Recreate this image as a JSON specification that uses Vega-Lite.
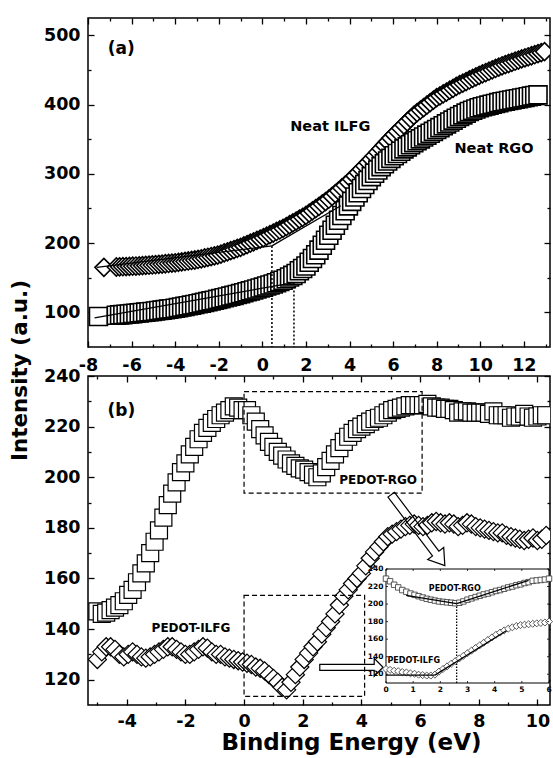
{
  "$schema": "https://vega.github.io/schema/vega-lite/v6.json",
  "background": "white",
  "padding": {"left": 8, "top": 16, "right": 0, "bottom": 0},
  "bounds": "flush",
  "spacing": 29,
  "config": {
    "font": "DejaVu Sans",
    "view": {"stroke": "black", "strokeWidth": 1.5},
    "axis": {
      "labelFont": "DejaVu Sans", "labelFontWeight": "bold", "labelFontSize": 17.5, "labelColor": "black",
      "titleFont": "DejaVu Sans", "titleFontWeight": "bold", "titleFontSize": 23, "titleColor": "black",
      "tickColor": "black", "tickWidth": 1.3, "domain": false, "grid": false, "zindex": 1,
      "labelFlush": false, "labelOverlap": false, "labelBound": false
    }
  },
  "datasets": {
    "a_ilfg": [{"x":-7.27,"y":165},{"x":-6.7,"y":165.5},{"x":-6.55,"y":165.7},{"x":-6.4,"y":165.9},{"x":-6.25,"y":166.1},{"x":-6.1,"y":166.4},{"x":-5.95,"y":166.6},{"x":-5.8,"y":166.9},{"x":-5.65,"y":167.2},{"x":-5.5,"y":167.5},{"x":-5.35,"y":167.8},{"x":-5.2,"y":168.1},{"x":-5.05,"y":168.4},{"x":-4.9,"y":168.8},{"x":-4.75,"y":169.3},{"x":-4.6,"y":169.7},{"x":-4.45,"y":170.2},{"x":-4.3,"y":170.6},{"x":-4.15,"y":171.1},{"x":-4,"y":171.5},{"x":-3.85,"y":172.2},{"x":-3.7,"y":172.9},{"x":-3.55,"y":173.5},{"x":-3.4,"y":174.2},{"x":-3.25,"y":174.9},{"x":-3.1,"y":175.6},{"x":-2.95,"y":176.4},{"x":-2.8,"y":177.4},{"x":-2.65,"y":178.5},{"x":-2.5,"y":179.5},{"x":-2.35,"y":180.6},{"x":-2.2,"y":181.6},{"x":-2.05,"y":182.7},{"x":-1.9,"y":184.1},{"x":-1.75,"y":185.8},{"x":-1.6,"y":187.4},{"x":-1.45,"y":189.1},{"x":-1.3,"y":190.7},{"x":-1.15,"y":192.4},{"x":-1,"y":194},{"x":-0.85,"y":196},{"x":-0.7,"y":197.9},{"x":-0.55,"y":199.9},{"x":-0.4,"y":201.8},{"x":-0.25,"y":203.8},{"x":-0.1,"y":205.7},{"x":0.05,"y":207.8},{"x":0.2,"y":210},{"x":0.35,"y":212.3},{"x":0.5,"y":214.5},{"x":0.65,"y":216.8},{"x":0.8,"y":219},{"x":0.95,"y":221.3},{"x":1.1,"y":223.8},{"x":1.25,"y":226.5},{"x":1.4,"y":229.2},{"x":1.55,"y":231.9},{"x":1.7,"y":234.6},{"x":1.85,"y":237.3},{"x":2,"y":240},{"x":2.15,"y":243.3},{"x":2.3,"y":246.6},{"x":2.45,"y":249.9},{"x":2.6,"y":253.2},{"x":2.75,"y":256.5},{"x":2.9,"y":259.8},{"x":3.05,"y":263.4},{"x":3.2,"y":267.4},{"x":3.35,"y":271.5},{"x":3.5,"y":275.5},{"x":3.65,"y":279.6},{"x":3.8,"y":283.6},{"x":3.95,"y":287.7},{"x":4.1,"y":292.2},{"x":4.25,"y":297},{"x":4.4,"y":301.8},{"x":4.55,"y":306.6},{"x":4.7,"y":311.4},{"x":4.85,"y":316.2},{"x":5,"y":321},{"x":5.15,"y":326.1},{"x":5.3,"y":331.2},{"x":5.45,"y":336.3},{"x":5.6,"y":341.4},{"x":5.75,"y":346.5},{"x":5.9,"y":351.6},{"x":6.05,"y":356.6},{"x":6.2,"y":361.2},{"x":6.35,"y":365.9},{"x":6.5,"y":370.5},{"x":6.65,"y":375.2},{"x":6.8,"y":379.8},{"x":6.95,"y":384.5},{"x":7.1,"y":388.4},{"x":7.25,"y":392},{"x":7.4,"y":395.6},{"x":7.55,"y":399.2},{"x":7.7,"y":402.8},{"x":7.85,"y":406.4},{"x":8,"y":410},{"x":8.15,"y":412.7},{"x":8.3,"y":415.4},{"x":8.45,"y":418.1},{"x":8.6,"y":420.8},{"x":8.75,"y":423.5},{"x":8.9,"y":426.2},{"x":9.05,"y":428.8},{"x":9.2,"y":431},{"x":9.35,"y":433.3},{"x":9.5,"y":435.5},{"x":9.65,"y":437.8},{"x":9.8,"y":440},{"x":9.95,"y":442.3},{"x":10.1,"y":444.3},{"x":10.25,"y":446.3},{"x":10.4,"y":448.2},{"x":10.55,"y":450.2},{"x":10.7,"y":452.1},{"x":10.85,"y":454.1},{"x":11,"y":456},{"x":11.15,"y":457.7},{"x":11.3,"y":459.3},{"x":11.45,"y":461},{"x":11.6,"y":462.6},{"x":11.75,"y":464.3},{"x":11.9,"y":465.9},{"x":12.05,"y":467.5},{"x":12.2,"y":469},{"x":12.35,"y":470.5},{"x":12.5,"y":472},{"x":12.65,"y":473.5},{"x":12.8,"y":475},{"x":12.95,"y":476.5}],
    "a_rgo": [{"x":-7.52,"y":94},{"x":-6.7,"y":95.9},{"x":-6.55,"y":96.4},{"x":-6.4,"y":96.8},{"x":-6.25,"y":97.3},{"x":-6.1,"y":97.7},{"x":-5.95,"y":98.2},{"x":-5.8,"y":98.7},{"x":-5.65,"y":99.2},{"x":-5.5,"y":99.8},{"x":-5.35,"y":100.3},{"x":-5.2,"y":100.8},{"x":-5.05,"y":101.3},{"x":-4.9,"y":102},{"x":-4.75,"y":102.6},{"x":-4.6,"y":103.3},{"x":-4.45,"y":104},{"x":-4.3,"y":104.7},{"x":-4.15,"y":105.3},{"x":-4,"y":106},{"x":-3.85,"y":106.9},{"x":-3.7,"y":107.8},{"x":-3.55,"y":108.7},{"x":-3.4,"y":109.6},{"x":-3.25,"y":110.5},{"x":-3.1,"y":111.4},{"x":-2.95,"y":112.4},{"x":-2.8,"y":113.4},{"x":-2.65,"y":114.5},{"x":-2.5,"y":115.5},{"x":-2.35,"y":116.6},{"x":-2.2,"y":117.6},{"x":-2.05,"y":118.7},{"x":-1.9,"y":119.8},{"x":-1.75,"y":121},{"x":-1.6,"y":122.2},{"x":-1.45,"y":123.4},{"x":-1.3,"y":124.6},{"x":-1.15,"y":125.8},{"x":-1,"y":127},{"x":-0.85,"y":128.4},{"x":-0.7,"y":129.7},{"x":-0.55,"y":131.1},{"x":-0.4,"y":132.4},{"x":-0.25,"y":133.8},{"x":-0.1,"y":135.1},{"x":0.05,"y":136.5},{"x":0.2,"y":138},{"x":0.35,"y":139.6},{"x":0.5,"y":141},{"x":0.65,"y":142.8},{"x":0.8,"y":144.6},{"x":0.95,"y":146.4},{"x":1.1,"y":148.6},{"x":1.25,"y":151},{"x":1.4,"y":153.4},{"x":1.55,"y":156.2},{"x":1.7,"y":160},{"x":1.85,"y":163.4},{"x":2,"y":167},{"x":2.15,"y":172.4},{"x":2.3,"y":177.8},{"x":2.45,"y":183.2},{"x":2.6,"y":189.8},{"x":2.75,"y":197},{"x":2.9,"y":204.2},{"x":3.05,"y":211.4},{"x":3.2,"y":218.6},{"x":3.35,"y":225.8},{"x":3.5,"y":233},{"x":3.65,"y":239.9},{"x":3.8,"y":246.8},{"x":3.95,"y":253.7},{"x":4.1,"y":260.2},{"x":4.25,"y":266.5},{"x":4.4,"y":272.8},{"x":4.55,"y":278.9},{"x":4.7,"y":284.6},{"x":4.85,"y":290.3},{"x":5,"y":296},{"x":5.15,"y":300.8},{"x":5.3,"y":305.6},{"x":5.45,"y":310.4},{"x":5.6,"y":314.6},{"x":5.75,"y":318.5},{"x":5.9,"y":322.4},{"x":6.05,"y":326.1},{"x":6.2,"y":329.4},{"x":6.35,"y":332.7},{"x":6.5,"y":336},{"x":6.65,"y":339},{"x":6.8,"y":342},{"x":6.95,"y":345},{"x":7.1,"y":347.8},{"x":7.25,"y":350.5},{"x":7.4,"y":353.2},{"x":7.55,"y":355.9},{"x":7.7,"y":358.6},{"x":7.85,"y":361.3},{"x":8,"y":364},{"x":8.15,"y":366.7},{"x":8.3,"y":369.4},{"x":8.45,"y":372.1},{"x":8.6,"y":374.8},{"x":8.75,"y":377.5},{"x":8.9,"y":380.2},{"x":9.05,"y":382.8},{"x":9.2,"y":385.2},{"x":9.35,"y":387.6},{"x":9.5,"y":390},{"x":9.65,"y":391.8},{"x":9.8,"y":393.6},{"x":9.95,"y":395.4},{"x":10.1,"y":396.8},{"x":10.25,"y":398},{"x":10.4,"y":399.2},{"x":10.55,"y":400.4},{"x":10.7,"y":401.6},{"x":10.85,"y":402.8},{"x":11,"y":404},{"x":11.15,"y":404.9},{"x":11.3,"y":405.8},{"x":11.45,"y":406.7},{"x":11.6,"y":407.6},{"x":11.75,"y":408.5},{"x":11.9,"y":409.4},{"x":12.05,"y":410.3},{"x":12.2,"y":411.2},{"x":12.35,"y":412.2},{"x":12.5,"y":413.1},{"x":12.65,"y":414}],
    "a_fit": [
      {"s":"ilfg_base","x":-7.6,"y":165},{"s":"ilfg_base","x":0.44,"y":196},
      {"s":"ilfg_rise","x":0.44,"y":196},{"s":"ilfg_rise","x":3.6,"y":254},
      {"s":"rgo_base","x":-7.7,"y":92},{"s":"rgo_base","x":1.45,"y":143}
    ],
    "a_onset": [{"x":0.44,"y":196},{"x":1.45,"y":143}],
    "b_rgo": [{"x":-5,"y":147},{"x":-4.85,"y":146},{"x":-4.7,"y":146.5},{"x":-4.55,"y":147.5},{"x":-4.4,"y":148.5},{"x":-4.25,"y":149.5},{"x":-4.1,"y":151},{"x":-3.95,"y":153.5},{"x":-3.8,"y":155.5},{"x":-3.65,"y":158.5},{"x":-3.5,"y":162},{"x":-3.35,"y":166},{"x":-3.2,"y":170},{"x":-3.05,"y":174.5},{"x":-2.9,"y":179},{"x":-2.75,"y":184},{"x":-2.6,"y":189},{"x":-2.45,"y":193.5},{"x":-2.3,"y":198},{"x":-2.15,"y":202},{"x":-2,"y":205.5},{"x":-1.85,"y":209},{"x":-1.7,"y":212},{"x":-1.55,"y":215},{"x":-1.4,"y":217.5},{"x":-1.25,"y":219.5},{"x":-1.1,"y":221.5},{"x":-0.95,"y":223},{"x":-0.8,"y":224.5},{"x":-0.65,"y":225.5},{"x":-0.5,"y":226.5},{"x":-0.35,"y":228},{"x":-0.2,"y":227.5},{"x":-0.05,"y":226.5},{"x":0.1,"y":226.5},{"x":0.25,"y":224.5},{"x":0.4,"y":222},{"x":0.55,"y":219},{"x":0.7,"y":216.5},{"x":0.85,"y":214},{"x":1,"y":212},{"x":1.15,"y":210},{"x":1.3,"y":208.5},{"x":1.45,"y":207},{"x":1.6,"y":205.5},{"x":1.75,"y":204.5},{"x":1.9,"y":203.5},{"x":2.05,"y":203},{"x":2.2,"y":202},{"x":2.35,"y":201},{"x":2.5,"y":200},{"x":2.65,"y":201.5},{"x":2.8,"y":204},{"x":2.95,"y":206.5},{"x":3.1,"y":209},{"x":3.25,"y":211.5},{"x":3.4,"y":214},{"x":3.55,"y":216},{"x":3.7,"y":217.5},{"x":3.85,"y":219},{"x":4,"y":220},{"x":4.15,"y":221},{"x":4.3,"y":222},{"x":4.45,"y":223},{"x":4.6,"y":223.5},{"x":4.75,"y":224.5},{"x":4.9,"y":225.5},{"x":5.05,"y":226.5},{"x":5.2,"y":227},{"x":5.35,"y":227.5},{"x":5.5,"y":228},{"x":5.65,"y":228.5},{"x":5.8,"y":228.5},{"x":5.95,"y":228.5},{"x":6.1,"y":228.5},{"x":6.25,"y":229},{"x":6.4,"y":228},{"x":6.55,"y":227.5},{"x":6.7,"y":227.5},{"x":6.85,"y":227},{"x":7,"y":227},{"x":7.15,"y":226.5},{"x":7.3,"y":225.5},{"x":7.45,"y":226},{"x":7.6,"y":226},{"x":7.75,"y":225.5},{"x":7.9,"y":225.5},{"x":8.05,"y":225.5},{"x":8.2,"y":225.5},{"x":8.35,"y":225},{"x":8.5,"y":226},{"x":8.65,"y":224.5},{"x":8.8,"y":224.5},{"x":8.95,"y":224.5},{"x":9.1,"y":223.5},{"x":9.25,"y":224},{"x":9.4,"y":224},{"x":9.55,"y":225},{"x":9.7,"y":224},{"x":9.85,"y":223.5},{"x":10,"y":224},{"x":10.15,"y":224.5},{"x":10.3,"y":224.5}],
    "b_ilfg": [{"x":-5,"y":128},{"x":-4.85,"y":131},{"x":-4.7,"y":133},{"x":-4.55,"y":133},{"x":-4.4,"y":132},{"x":-4.25,"y":130},{"x":-4.1,"y":129},{"x":-3.95,"y":130},{"x":-3.8,"y":131},{"x":-3.65,"y":130},{"x":-3.5,"y":129},{"x":-3.35,"y":128.5},{"x":-3.2,"y":129},{"x":-3.05,"y":130},{"x":-2.9,"y":131},{"x":-2.75,"y":132},{"x":-2.6,"y":133},{"x":-2.45,"y":133},{"x":-2.3,"y":132},{"x":-2.15,"y":131},{"x":-2,"y":130},{"x":-1.85,"y":130},{"x":-1.7,"y":131},{"x":-1.55,"y":132},{"x":-1.4,"y":133},{"x":-1.25,"y":132.5},{"x":-1.1,"y":131},{"x":-0.95,"y":130},{"x":-0.8,"y":130},{"x":-0.65,"y":129},{"x":-0.5,"y":128.5},{"x":-0.35,"y":128},{"x":-0.2,"y":127.5},{"x":-0.05,"y":127},{"x":0.1,"y":126.5},{"x":0.25,"y":126},{"x":0.4,"y":125},{"x":0.55,"y":124.5},{"x":0.7,"y":123.5},{"x":0.85,"y":122},{"x":1,"y":120.5},{"x":1.15,"y":119},{"x":1.3,"y":117},{"x":1.45,"y":116},{"x":1.6,"y":119},{"x":1.75,"y":122},{"x":1.9,"y":125},{"x":2.05,"y":128},{"x":2.2,"y":130.5},{"x":2.35,"y":133},{"x":2.5,"y":135},{"x":2.65,"y":138},{"x":2.8,"y":140.5},{"x":2.95,"y":143},{"x":3.1,"y":146},{"x":3.25,"y":149.5},{"x":3.4,"y":153},{"x":3.55,"y":155.5},{"x":3.7,"y":158},{"x":3.85,"y":160},{"x":4,"y":162},{"x":4.15,"y":165},{"x":4.3,"y":168},{"x":4.45,"y":170.5},{"x":4.6,"y":172.5},{"x":4.75,"y":174.5},{"x":4.9,"y":176.5},{"x":5.05,"y":177.5},{"x":5.2,"y":178.5},{"x":5.35,"y":179.5},{"x":5.5,"y":180.5},{"x":5.65,"y":181},{"x":5.8,"y":181.5},{"x":5.95,"y":181},{"x":6.1,"y":180.5},{"x":6.25,"y":181},{"x":6.4,"y":182},{"x":6.55,"y":182.5},{"x":6.7,"y":182},{"x":6.85,"y":181.5},{"x":7,"y":182},{"x":7.15,"y":181.5},{"x":7.3,"y":180.5},{"x":7.45,"y":181},{"x":7.6,"y":182},{"x":7.75,"y":181.5},{"x":7.9,"y":180.5},{"x":8.05,"y":180},{"x":8.2,"y":179.5},{"x":8.35,"y":179},{"x":8.5,"y":178.5},{"x":8.65,"y":178},{"x":8.8,"y":178},{"x":8.95,"y":177},{"x":9.1,"y":176.5},{"x":9.25,"y":176},{"x":9.4,"y":175.5},{"x":9.55,"y":175},{"x":9.7,"y":175.5},{"x":9.85,"y":176},{"x":10,"y":175},{"x":10.15,"y":175.5},{"x":10.3,"y":177}],
    "b_boxes": [{"x":0,"x2":6.07,"y":193.7,"y2":233.8},{"x":0,"x2":4.11,"y":113.4,"y2":153.3}],
    "in_rgo": [{"x":0,"y":229},{"x":0.15,"y":226},{"x":0.3,"y":222},{"x":0.45,"y":219},{"x":0.6,"y":216},{"x":0.75,"y":214},{"x":0.9,"y":212},{"x":1.05,"y":210.5},{"x":1.2,"y":209},{"x":1.35,"y":207.5},{"x":1.5,"y":206},{"x":1.65,"y":205},{"x":1.8,"y":204},{"x":1.95,"y":203},{"x":2.1,"y":202.5},{"x":2.25,"y":202},{"x":2.4,"y":201.5},{"x":2.55,"y":201},{"x":2.7,"y":201.5},{"x":2.85,"y":203},{"x":3,"y":205},{"x":3.15,"y":206.5},{"x":3.3,"y":208},{"x":3.45,"y":209.5},{"x":3.6,"y":211},{"x":3.75,"y":212},{"x":3.9,"y":213.5},{"x":4.05,"y":215},{"x":4.2,"y":216},{"x":4.35,"y":217.5},{"x":4.5,"y":219},{"x":4.65,"y":220},{"x":4.8,"y":221.5},{"x":4.95,"y":222.5},{"x":5.1,"y":224},{"x":5.25,"y":225},{"x":5.4,"y":226.5},{"x":5.55,"y":227},{"x":5.7,"y":227.5},{"x":5.85,"y":228},{"x":6,"y":229}],
    "in_ilfg": [{"x":0,"y":126},{"x":0.15,"y":125},{"x":0.3,"y":124},{"x":0.45,"y":123.5},{"x":0.6,"y":122.5},{"x":0.75,"y":122},{"x":0.9,"y":121},{"x":1.05,"y":120.5},{"x":1.2,"y":119.5},{"x":1.35,"y":119},{"x":1.5,"y":118.5},{"x":1.65,"y":118.5},{"x":1.8,"y":119.5},{"x":1.95,"y":123},{"x":2.1,"y":126},{"x":2.25,"y":129},{"x":2.4,"y":132},{"x":2.55,"y":135},{"x":2.7,"y":138},{"x":2.85,"y":141},{"x":3,"y":144},{"x":3.15,"y":147},{"x":3.3,"y":150},{"x":3.45,"y":153},{"x":3.6,"y":156},{"x":3.75,"y":159},{"x":3.9,"y":162},{"x":4.05,"y":165},{"x":4.2,"y":167.5},{"x":4.35,"y":170},{"x":4.5,"y":172},{"x":4.65,"y":173.5},{"x":4.8,"y":175},{"x":4.95,"y":176},{"x":5.1,"y":176.5},{"x":5.25,"y":177},{"x":5.4,"y":177.5},{"x":5.55,"y":178},{"x":5.7,"y":178.5},{"x":5.85,"y":179},{"x":6,"y":180}],
    "in_fit": [
      {"s":"rgo1","x":0.74,"y":210},{"s":"rgo1","x":2.6,"y":200.6},
      {"s":"rgo2","x":2.6,"y":200.6},{"s":"rgo2","x":5.25,"y":227},
      {"s":"ilfg1","x":0,"y":119},{"s":"ilfg1","x":1.8,"y":119},
      {"s":"ilfg2","x":1.8,"y":119},{"s":"ilfg2","x":4.43,"y":169.6}
    ],
    "in_onset": [{"x":2.6,"y":200.6}],
    "in_xticks": [{"v":0},{"v":1},{"v":2},{"v":3},{"v":4},{"v":5},{"v":6}],
    "in_yticks": [{"v":120},{"v":140},{"v":160},{"v":180},{"v":200},{"v":220},{"v":240}]
  },
  "vconcat": [
    {
      "width": 462,
      "height": 329,
      "resolve": {"axis": {"x": "independent", "y": "independent"}},
      "layer": [
        {
          "data": {"name": "a_ilfg"},
          "mark": {"type": "point", "shape": "diamond", "size": 324, "filled": true, "fill": "white", "stroke": "black", "strokeWidth": 1.6, "opacity": 1, "clip": true},
          "encoding": {
            "x": {"field": "x", "type": "quantitative",
              "scale": {"domain": [-8, 13.2], "nice": false, "zero": false},
              "axis": {"orient": "bottom", "title": null,
                "values": [-8,-7,-6,-5,-4,-3,-2,-1,0,1,2,3,4,5,6,7,8,9,10,11,12,13],
                "labelExpr": "datum.value % 2 === 0 ? '' + datum.value : ''",
                "tickSize": {"condition": {"test": "datum.value % 2 !== 0", "value": -3}, "value": -6},
                "labelPadding": 15}},
            "y": {"field": "y", "type": "quantitative",
              "scale": {"domain": [50, 525], "nice": false, "zero": false},
              "axis": {"orient": "left", "title": "Intensity (a.u.)", "titleFontSize": 21.5, "titleY": 352, "titlePadding": 12,
                "values": [100,150,200,250,300,350,400,450,500],
                "labelExpr": "datum.value % 100 === 0 ? '' + datum.value : ''",
                "tickSize": {"condition": {"test": "datum.value % 100 !== 0", "value": -3}, "value": -6},
                "labelPadding": 14}}
          }
        },
        {
          "data": {"name": "a_rgo"},
          "mark": {"type": "point", "shape": "square", "size": 324, "filled": true, "fill": "white", "stroke": "black", "strokeWidth": 1.6, "opacity": 1, "clip": true},
          "encoding": {
            "x": {"field": "x", "type": "quantitative",
              "axis": {"orient": "top", "title": null, "labels": false,
                "values": [-8,-7,-6,-5,-4,-3,-2,-1,0,1,2,3,4,5,6,7,8,9,10,11,12,13],
                "tickSize": {"condition": {"test": "datum.value % 2 !== 0", "value": -3}, "value": -6}}},
            "y": {"field": "y", "type": "quantitative",
              "axis": {"orient": "right", "title": null, "labels": false,
                "values": [100,150,200,250,300,350,400,450,500],
                "tickSize": {"condition": {"test": "datum.value % 100 !== 0", "value": -3}, "value": -6}}}
          }
        },
        {
          "data": {"name": "a_fit"},
          "mark": {"type": "line", "color": "black", "strokeWidth": 1.2, "clip": true},
          "encoding": {
            "x": {"field": "x", "type": "quantitative", "axis": null},
            "y": {"field": "y", "type": "quantitative", "axis": null},
            "detail": {"field": "s", "type": "nominal"}
          }
        },
        {
          "data": {"name": "a_onset"},
          "mark": {"type": "rule", "color": "black", "strokeWidth": 1.5, "strokeDash": [2, 2]},
          "encoding": {
            "x": {"field": "x", "type": "quantitative", "axis": null},
            "y": {"field": "y", "type": "quantitative", "axis": null},
            "y2": {"datum": 50}
          }
        },
        {
          "data": {"values": [{}]},
          "mark": {"type": "text", "text": "(a)", "fontSize": 17, "fontWeight": "bold", "color": "black"},
          "encoding": {"x": {"datum": -6.47, "type": "quantitative", "axis": null}, "y": {"datum": 480.6, "type": "quantitative", "axis": null}}
        },
        {
          "data": {"values": [{}]},
          "mark": {"type": "text", "text": "Neat ILFG", "fontSize": 14.5, "fontWeight": "bold", "color": "black"},
          "encoding": {"x": {"datum": 3.12, "type": "quantitative", "axis": null}, "y": {"datum": 367.4, "type": "quantitative", "axis": null}}
        },
        {
          "data": {"values": [{}]},
          "mark": {"type": "text", "text": "Neat RGO", "fontSize": 14.5, "fontWeight": "bold", "color": "black"},
          "encoding": {"x": {"datum": 10.63, "type": "quantitative", "axis": null}, "y": {"datum": 336, "type": "quantitative", "axis": null}}
        }
      ]
    },
    {
      "width": 462,
      "height": 329,
      "resolve": {"scale": {"x": "independent", "y": "independent"}},
      "layer": [
        {
          "resolve": {"axis": {"x": "independent", "y": "independent"}},
          "layer": [
            {
              "data": {"name": "b_rgo"},
              "mark": {"type": "point", "shape": "square", "size": 289, "filled": true, "fill": "white", "stroke": "black", "strokeWidth": 1.2, "opacity": 1, "clip": true},
              "encoding": {
                "x": {"field": "x", "type": "quantitative",
                  "scale": {"domain": [-5.32, 10.43], "nice": false, "zero": false},
                  "axis": {"orient": "bottom", "title": "Binding Energy (eV)", "titleFontSize": 23, "titlePadding": -1, "titleX": 263,
                    "values": [-5,-4,-3,-2,-1,0,1,2,3,4,5,6,7,8,9,10],
                    "labelExpr": "datum.value % 2 === 0 ? '' + datum.value : ''",
                    "tickSize": {"condition": {"test": "datum.value % 2 !== 0", "value": -3}, "value": -6},
                    "labelPadding": 13}},
                "y": {"field": "y", "type": "quantitative",
                  "scale": {"domain": [110, 240], "nice": false, "zero": false},
                  "axis": {"orient": "left", "title": null,
                    "values": [120,130,140,150,160,170,180,190,200,210,220,230,240],
                    "labelExpr": "datum.value % 20 === 0 ? '' + datum.value : ''",
                    "tickSize": {"condition": {"test": "datum.value % 20 !== 0", "value": -3}, "value": -6},
                    "labelPadding": 14}}
              }
            },
            {
              "data": {"name": "b_ilfg"},
              "mark": {"type": "point", "shape": "diamond", "size": 330, "filled": true, "fill": "white", "stroke": "black", "strokeWidth": 1.2, "opacity": 1, "clip": true},
              "encoding": {
                "x": {"field": "x", "type": "quantitative",
                  "axis": {"orient": "top", "title": null, "labels": false,
                    "values": [-5,-4,-3,-2,-1,0,1,2,3,4,5,6,7,8,9,10],
                    "tickSize": {"condition": {"test": "datum.value % 2 !== 0", "value": -3}, "value": -6}}},
                "y": {"field": "y", "type": "quantitative",
                  "axis": {"orient": "right", "title": null, "labels": false,
                    "values": [120,130,140,150,160,170,180,190,200,210,220,230,240],
                    "tickSize": {"condition": {"test": "datum.value % 20 !== 0", "value": -3}, "value": -6}}}
              }
            },
            {
              "data": {"name": "b_boxes"},
              "mark": {"type": "rect", "fillOpacity": 0, "stroke": "black", "strokeWidth": 1.2, "strokeDash": [5, 3]},
              "encoding": {
                "x": {"field": "x", "type": "quantitative", "axis": null},
                "x2": {"field": "x2"},
                "y": {"field": "y", "type": "quantitative", "axis": null},
                "y2": {"field": "y2"}
              }
            },
            {
              "data": {"values": [{}]},
              "mark": {"type": "point", "shape": "M-1,-0.09L0.66,-0.09L0.66,-0.225L1,0L0.66,0.225L0.66,0.09L-1,0.09Z", "size": 7921, "angle": 52.9, "filled": false, "color": "black", "strokeWidth": 1.2, "opacity": 1},
              "encoding": {"x": {"datum": 5.93, "type": "quantitative", "axis": null}, "y": {"datum": 179.1, "type": "quantitative", "axis": null}}
            },
            {
              "data": {"values": [{}]},
              "mark": {"type": "point", "shape": "M-1,-0.095L0.72,-0.095L0.72,-0.284L1,0L0.72,0.284L0.72,0.095L-1,0.095Z", "size": 4007, "filled": false, "color": "black", "strokeWidth": 1.2, "opacity": 1},
              "encoding": {"x": {"datum": 3.66, "type": "quantitative", "axis": null}, "y": {"datum": 124.9, "type": "quantitative", "axis": null}}
            },
            {
              "data": {"values": [{}]},
              "mark": {"type": "text", "text": "(b)", "fontSize": 17, "fontWeight": "bold", "color": "black"},
              "encoding": {"x": {"datum": -4.18, "type": "quantitative", "axis": null}, "y": {"datum": 226.3, "type": "quantitative", "axis": null}}
            },
            {
              "data": {"values": [{}]},
              "mark": {"type": "text", "text": "PEDOT-RGO", "fontSize": 12, "fontWeight": "bold", "color": "black"},
              "encoding": {"x": {"datum": 4.57, "type": "quantitative", "axis": null}, "y": {"datum": 198.9, "type": "quantitative", "axis": null}}
            },
            {
              "data": {"values": [{}]},
              "mark": {"type": "text", "text": "PEDOT-ILFG", "fontSize": 12, "fontWeight": "bold", "color": "black"},
              "encoding": {"x": {"datum": -1.81, "type": "quantitative", "axis": null}, "y": {"datum": 140.4, "type": "quantitative", "axis": null}}
            }
          ]
        },
        {
          "layer": [
            {
              "data": {"values": [{}]},
              "mark": {"type": "rect", "fill": "white", "stroke": "black", "strokeWidth": 1},
              "encoding": {
                "x": {"datum": 0, "type": "quantitative", "axis": null},
                "x2": {"datum": 6},
                "y": {"datum": 110, "type": "quantitative", "axis": null},
                "y2": {"datum": 240}
              }
            },
            {
              "data": {"name": "in_onset"},
              "mark": {"type": "rule", "color": "black", "strokeWidth": 1.3, "strokeDash": [1.5, 1.5]},
              "encoding": {
                "x": {"field": "x", "type": "quantitative", "axis": null},
                "y": {"field": "y", "type": "quantitative", "axis": null},
                "y2": {"datum": 110}
              }
            },
            {
              "data": {"name": "in_rgo"},
              "mark": {"type": "point", "shape": "square", "size": 30, "filled": true, "fill": "white", "stroke": "#333", "strokeWidth": 0.8, "opacity": 1},
              "encoding": {
                "x": {"field": "x", "type": "quantitative",
                  "scale": {"domain": [0, 6], "range": [298, 461], "nice": false, "zero": false}, "axis": null},
                "y": {"field": "y", "type": "quantitative",
                  "scale": {"domain": [110, 240], "range": [307, 193], "nice": false, "zero": false}, "axis": null}
              }
            },
            {
              "data": {"name": "in_ilfg"},
              "mark": {"type": "point", "shape": "diamond", "size": 50, "filled": true, "fill": "white", "stroke": "#333", "strokeWidth": 0.8, "opacity": 1},
              "encoding": {
                "x": {"field": "x", "type": "quantitative", "axis": null},
                "y": {"field": "y", "type": "quantitative", "axis": null}
              }
            },
            {
              "data": {"name": "in_fit"},
              "mark": {"type": "line", "color": "black", "strokeWidth": 1.3},
              "encoding": {
                "x": {"field": "x", "type": "quantitative", "axis": null},
                "y": {"field": "y", "type": "quantitative", "axis": null},
                "detail": {"field": "s", "type": "nominal"}
              }
            },
            {
              "data": {"name": "in_xticks"},
              "mark": {"type": "point", "shape": "M0,0L0,-1", "size": 16, "filled": false, "color": "black", "strokeWidth": 0.8, "opacity": 1},
              "encoding": {"x": {"field": "v", "type": "quantitative", "axis": null}, "y": {"datum": 110, "type": "quantitative", "axis": null}}
            },
            {
              "data": {"name": "in_xticks"},
              "mark": {"type": "point", "shape": "M0,0L0,1", "size": 16, "filled": false, "color": "black", "strokeWidth": 0.8, "opacity": 1},
              "encoding": {"x": {"field": "v", "type": "quantitative", "axis": null}, "y": {"datum": 240, "type": "quantitative", "axis": null}}
            },
            {
              "data": {"name": "in_yticks"},
              "mark": {"type": "point", "shape": "M0,0L1,0", "size": 16, "filled": false, "color": "black", "strokeWidth": 0.8, "opacity": 1},
              "encoding": {"x": {"datum": 0, "type": "quantitative", "axis": null}, "y": {"field": "v", "type": "quantitative", "axis": null}}
            },
            {
              "data": {"name": "in_yticks"},
              "mark": {"type": "point", "shape": "M0,0L-1,0", "size": 16, "filled": false, "color": "black", "strokeWidth": 0.8, "opacity": 1},
              "encoding": {"x": {"datum": 6, "type": "quantitative", "axis": null}, "y": {"field": "v", "type": "quantitative", "axis": null}}
            },
            {
              "data": {"name": "in_xticks"},
              "mark": {"type": "text", "fontSize": 7.5, "fontWeight": "bold", "color": "black", "baseline": "top", "dy": 3},
              "encoding": {
                "x": {"field": "v", "type": "quantitative", "axis": null},
                "y": {"datum": 110, "type": "quantitative", "axis": null},
                "text": {"field": "v", "type": "quantitative"}
              }
            },
            {
              "data": {"name": "in_yticks"},
              "mark": {"type": "text", "fontSize": 7.5, "fontWeight": "bold", "color": "black", "align": "right", "baseline": "middle", "dx": -2.5},
              "encoding": {
                "x": {"datum": 0, "type": "quantitative", "axis": null},
                "y": {"field": "v", "type": "quantitative", "axis": null},
                "text": {"field": "v", "type": "quantitative"}
              }
            },
            {
              "data": {"values": [{}]},
              "mark": {"type": "text", "text": "PEDOT-RGO", "fontSize": 8, "fontWeight": "bold", "color": "black"},
              "encoding": {"x": {"datum": 2.53, "type": "quantitative", "axis": null}, "y": {"datum": 217.3, "type": "quantitative", "axis": null}}
            },
            {
              "data": {"values": [{}]},
              "mark": {"type": "text", "text": "PEDOT-ILFG", "fontSize": 8, "fontWeight": "bold", "color": "black"},
              "encoding": {"x": {"datum": 1.02, "type": "quantitative", "axis": null}, "y": {"datum": 135.5, "type": "quantitative", "axis": null}}
            }
          ]
        }
      ]
    }
  ]
}
